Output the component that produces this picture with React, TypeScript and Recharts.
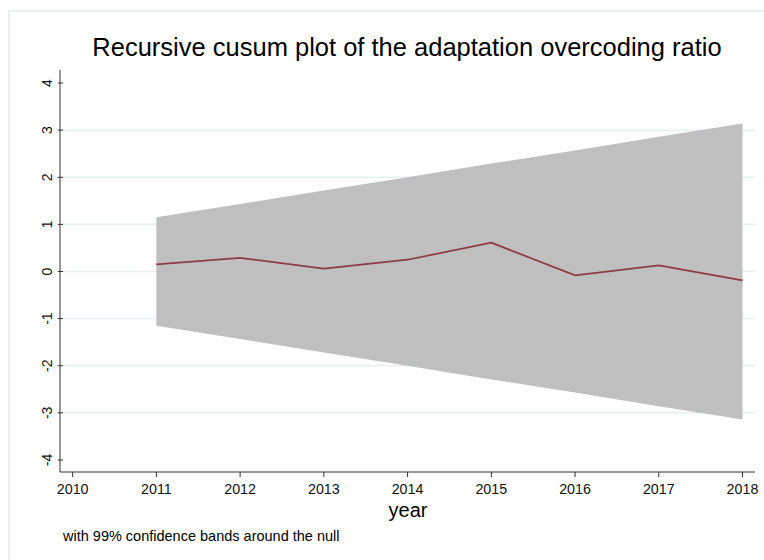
import React from "react";
import {
  ComposedChart,
  Area,
  Line,
  XAxis,
  YAxis,
  CartesianGrid,
} from "recharts";

const years = [2011, 2012, 2013, 2014, 2015, 2016, 2017, 2018];
const cusum = [0.15, 0.29, 0.06, 0.25, 0.61, -0.08, 0.13, -0.19];
const upperBand = [1.15, 1.43, 1.72, 2.0, 2.29, 2.57, 2.86, 3.14];
const lowerBand = [-1.15, -1.43, -1.72, -2.0, -2.29, -2.57, -2.86, -3.14];
const xTicks = [2010, 2011, 2012, 2013, 2014, 2015, 2016, 2017, 2018];
const yTicks = [-4, -3, -2, -1, 0, 1, 2, 3, 4];
const gridValues = [-3, -2, -1, 0, 1, 2, 3];

const data = years.map((y, i) => ({
  year: y,
  cusum: cusum[i],
  band: [lowerBand[i], upperBand[i]],
}));

const FONT = "'Liberation Sans', Arial, Helvetica, sans-serif";

const YTick = (props: any) => {
  const { x, y, payload } = props;
  return (
    <g>
      <line x1={x + 6} x2={x + 11} y1={y} y2={y} stroke="#333" strokeWidth={1} />
      <text
        x={x - 5}
        y={y}
        transform={`rotate(-90 ${x - 5} ${y})`}
        textAnchor="middle"
        dominantBaseline="central"
        fontSize={14}
        fontFamily={FONT}
        fill="#111"
      >
        {payload.value}
      </text>
    </g>
  );
};

const XTick = (props: any) => {
  const { x, y, payload } = props;
  return (
    <g>
      <line x1={x} x2={x} y1={y - 8} y2={y - 3} stroke="#333" strokeWidth={1} />
      <text
        x={x}
        y={y + 14}
        textAnchor="middle"
        fontSize={14.3}
        fontFamily={FONT}
        fill="#111"
      >
        {payload.value}
      </text>
    </g>
  );
};

export default function App() {
  return (
    <div
      style={{
        position: "absolute",
        left: 0,
        top: 0,
        width: 764,
        height: 560,
        background: "#fff",
        fontFamily: FONT,
      }}
    >
      <div
        style={{
          position: "absolute",
          left: 8,
          top: 10,
          width: 770,
          height: 560,
          borderTop: "2px solid #e6eff1",
          borderLeft: "2px solid #e6eff1",
          boxSizing: "border-box",
        }}
      />
      <div
        style={{
          position: "absolute",
          left: 0,
          top: 33,
          width: 814,
          textAlign: "center",
          fontSize: 25.5,
          lineHeight: "29px",
          color: "#000",
        }}
      >
        Recursive cusum plot of the adaptation overcoding ratio
      </div>
      <div style={{ position: "absolute", left: 0, top: 0 }}>
        <ComposedChart
          width={764}
          height={560}
          data={data}
          margin={{ top: 70, right: 9, bottom: 58, left: 0 }}
        >
          <CartesianGrid
            vertical={false}
            horizontalValues={gridValues}
            stroke="#e6eff1"
            strokeWidth={1.5}
          />
          <XAxis
            dataKey="year"
            type="number"
            domain={[2009.849, 2018.149]}
            ticks={xTicks}
            tick={<XTick />}
            tickLine={false}
            axisLine={{ stroke: "#333", strokeWidth: 1 }}
            height={30}
            allowDataOverflow
          />
          <YAxis
            type="number"
            domain={[-4.255, 4.276]}
            ticks={yTicks}
            tick={<YTick />}
            tickLine={false}
            axisLine={{ stroke: "#333", strokeWidth: 1 }}
            width={60}
            allowDataOverflow
          />
          <Area
            dataKey="band"
            type="linear"
            stroke="none"
            fill="#bfbfbf"
            fillOpacity={1}
            isAnimationActive={false}
          />
          <Line
            dataKey="cusum"
            type="linear"
            stroke="#8f3a42"
            strokeWidth={1.7}
            dot={false}
            isAnimationActive={false}
          />
        </ComposedChart>
      </div>
      <div
        style={{
          position: "absolute",
          left: 0,
          top: 499,
          width: 816,
          textAlign: "center",
          fontSize: 20,
          lineHeight: "23px",
          color: "#000",
        }}
      >
        year
      </div>
      <div
        style={{
          position: "absolute",
          left: 63,
          top: 528,
          fontSize: 14.5,
          lineHeight: "17px",
          color: "#000",
        }}
      >
        with 99% confidence bands around the null
      </div>
    </div>
  );
}
